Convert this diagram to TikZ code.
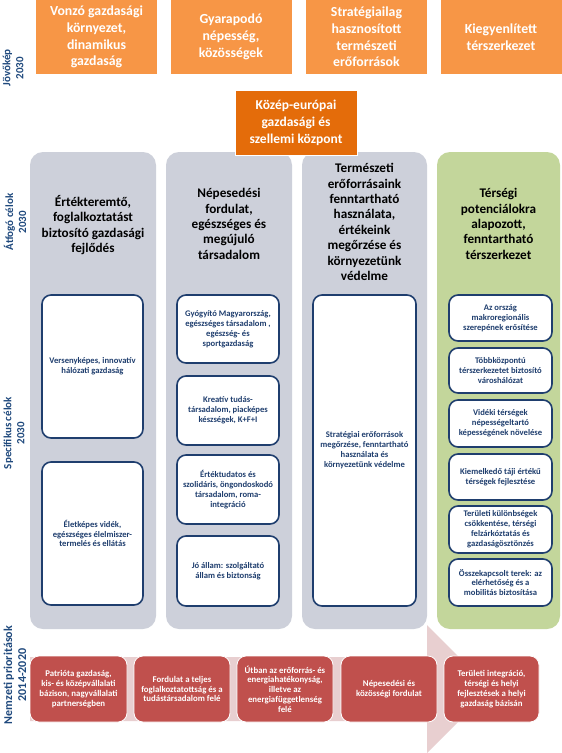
\documentclass[tikz,border=0pt]{standalone}
\usepackage{fontspec}
\setmainfont{Carlito}
\definecolor{topor}{HTML}{F79646}
\definecolor{darkor}{HTML}{E46C0A}
\definecolor{panelgray}{HTML}{CDD0DA}
\definecolor{panelgreen}{HTML}{C3D69B}
\definecolor{innerblue}{HTML}{1F3E6E}
\definecolor{labelblue}{HTML}{1F497D}
\definecolor{prired}{HTML}{C0504D}
\definecolor{arrowpink}{HTML}{E8CFD0}
\begin{document}
\begin{tikzpicture}[x=1pt,y=-1pt,
  topbox/.style={fill=topor, text=white, font=\bfseries\fontsize{13.8}{16.8}\selectfont, align=center, minimum width=121, minimum height=74, inner sep=0},
  centerbox/.style={fill=darkor, draw=white, line width=1pt, text=white, font=\bfseries\fontsize{13.5}{17}\selectfont, align=center, minimum width=122, minimum height=65, inner sep=0},
  panel/.style={rounded corners=13, minimum height=477, inner sep=0},
  header/.style={font=\bfseries\fontsize{13.2}{15.4}\selectfont, align=center, text=black, inner sep=0},
  inner/.style={fill=white, draw=innerblue, line width=1.6pt, rounded corners=9, text=innerblue, font=\bfseries\fontsize{8.6}{9.9}\selectfont, align=center, inner sep=0},
  pri/.style={fill=prired, draw=white, line width=0.8pt, rounded corners=9, text=white, font=\bfseries\fontsize{8.8}{9.8}\selectfont, align=center, minimum width=96, minimum height=66, inner sep=0},
  sidelabel/.style={rotate=90, text=labelblue, font=\bfseries\fontsize{11}{13}\selectfont, align=center, inner sep=0}
]
\useasboundingbox (0,0) rectangle (562,753);
\fill[white] (0,0) rectangle (562,753);

% top vision boxes
\node[topbox] (t1) at (96.5,37) {Vonzó gazdasági\\környezet,\\dinamikus\\gazdaság};
\node[topbox] (t2) at (231,37) {Gyarapodó\\népesség,\\közösségek};
\node[topbox] (t3) at (366.5,37) {Stratégiailag\\hasznosított\\természeti\\erőforrások};
\node[topbox] (t4) at (501,37) {Kiegyenlített\\térszerkezet};

% panels
\node[panel, fill=panelgray, minimum width=126] (p1) at (93,390.5) {};
\node[panel, fill=panelgray, minimum width=126] (p2) at (229,390.5) {};
\node[panel, fill=panelgray, minimum width=125] (p3) at (364.5,390.5) {};
\node[panel, fill=panelgreen, minimum width=123] (p4) at (498.5,390.5) {};

% center box
\node[centerbox] (c) at (296,122.5) {Közép-európai\\gazdasági és\\szellemi központ};

% headers
\node[header] (h1) at (93,225) {Értékteremtő,\\foglalkoztatást\\biztosító gazdasági\\fejlődés};
\node[header] (h2) at (229,224) {Népesedési\\fordulat,\\egészséges és\\megújuló\\társadalom};
\node[header] (h3) at (364.5,222) {Természeti\\erőforrásaink\\fenntartható\\használata,\\értékeink\\megőrzése és\\környezetünk\\védelme};
\node[header] (h4) at (498.5,224) {Térségi\\potenciálokra\\alapozott,\\fenntartható\\térszerkezet};

% column 1
\node[inner, minimum width=101, minimum height=143] (a1) at (92.5,366.5) {Versenyképes, innovatív\\hálózati gazdaság};
\node[inner, minimum width=101, minimum height=143] (a2) at (92.5,533.5) {Életképes vidék,\\egészséges élelmiszer-\\termelés és ellátás};

% column 2
\node[inner, minimum width=102, minimum height=68] (b1) at (228,329) {Gyógyító Magyarország,\\egészséges társadalom ,\\egészség- és\\sportgazdaság};
\node[inner, minimum width=102, minimum height=69] (b2) at (228,410.5) {Kreatív tudás-\\társadalom, piacképes\\készségek, K+F+I};
\node[inner, minimum width=102, minimum height=69] (b3) at (228,489.5) {Értéktudatos és\\szolidáris, öngondoskodó\\társadalom, roma-\\integráció};
\node[inner, minimum width=102, minimum height=70] (b4) at (228,571) {Jó állam: szolgáltató\\állam és biztonság};

% column 3
\node[inner, minimum width=103, minimum height=311] (s1) at (364.5,450.5) {Stratégiai erőforrások\\megőrzése, fenntartható\\használata és\\környezetünk védelme};

% column 4
\node[inner, minimum width=103, minimum height=46] (d1) at (500.5,318) {Az ország\\makroregionális\\szerepének erősítése};
\node[inner, minimum width=103, minimum height=45] (d2) at (500.5,370.5) {Többközpontú\\térszerkezetet biztosító\\városhálózat};
\node[inner, minimum width=103, minimum height=47] (d3) at (500.5,423.5) {Vidéki térségek\\népességeltartó\\képességének növelése};
\node[inner, minimum width=103, minimum height=46] (d4) at (500.5,477) {Kiemelkedő táji értékű\\térségek  fejlesztése};
\node[inner, minimum width=103, minimum height=47] (d5) at (500.5,529.5) {Területi különbségek\\csökkentése, térségi\\felzárkóztatás és\\gazdaságösztönzés};
\node[inner, minimum width=103, minimum height=47] (d6) at (500.5,582.5) {Összekapcsolt terek: az\\elérhetőség és a\\mobilitás biztosítása};

% priority arrow
\fill[arrowpink] (30,657) -- (427,657) -- (427,625) -- (491,689) -- (427,753) -- (427,721) -- (30,721) -- cycle;

% priorities
\node[pri, minimum width=97] (r1) at (78.5,689) {Patrióta gazdaság,\\kis- és középvállalati\\bázison, nagyvállalati\\partnerségben};
\node[pri] (r2) at (182,689) {Fordulat a teljes\\foglalkoztatottság és a\\tudástársadalom felé};
\node[pri] (r3) at (285,689) {Útban az erőforrás- és\\energiahatékonyság,\\illetve az\\energiafüggetlenség\\felé};
\node[pri] (r4) at (389,689) {Népesedési és\\közösségi fordulat};
\node[pri, minimum width=95] (r5) at (491.5,689) {Területi integráció,\\térségi és helyi\\fejlesztések a helyi\\gazdaság bázisán};

% side labels
\node[sidelabel] (l1) at (13,68) {Jövőkép\\2030};
\node[sidelabel] (l2) at (15,222) {Átfogó célok\\2030};
\node[sidelabel] (l3) at (14,433) {Specifikus célok\\2030};
\node[sidelabel, font=\bfseries\fontsize{12}{14}\selectfont] (l4) at (15,675) {Nemzeti prioritások\\2014-2020};
\end{tikzpicture}
\end{document}
